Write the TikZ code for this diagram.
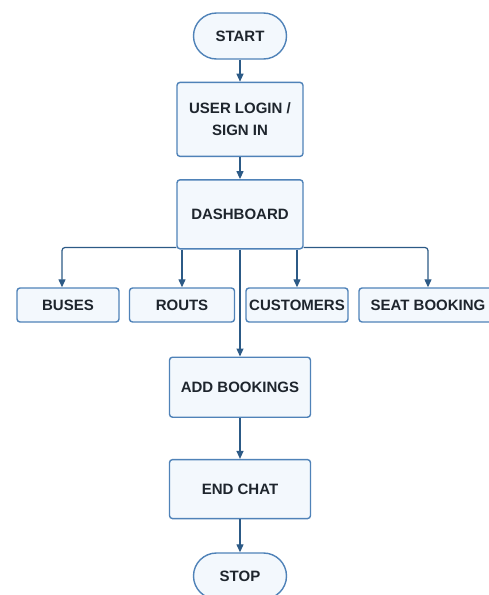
\documentclass[tikz,border=0pt]{standalone}
\usepackage{fontspec}
\setmainfont{Liberation Sans}
\usetikzlibrary{arrows.meta, positioning}
\definecolor{fcedge}{HTML}{4F82B8}
\definecolor{fcfill}{HTML}{F3F8FD}
\definecolor{fcline}{HTML}{2C5A86}
\definecolor{fctext}{HTML}{1E252D}

\begin{document}
\begin{tikzpicture}[
    x=1pt, y=1pt,
    procbox/.style={rectangle, rounded corners=3pt, draw=fcedge, fill=fcfill,
                    align=center, text=fctext, line width=1.4pt, inner sep=2pt,
                    font=\fontsize{15}{22}\selectfont\bfseries},
    termbox/.style={procbox, rounded corners=23pt, minimum width=93pt, minimum height=46pt},
    arrow/.style={-{Triangle[length=8pt, width=7pt]}, line width=1.2pt, fcline, rounded corners=3pt}
  ]
    \useasboundingbox (0,0) rectangle (489,-595);

    \node[termbox] (start) at (240,-36) {START};
    \node[procbox, minimum width=126pt, minimum height=74pt, below=22pt of start] (login) {USER LOGIN /\\SIGN IN};
    \node[procbox, minimum width=126pt, minimum height=69pt, below=22pt of login] (dash) {DASHBOARD};

    \node[procbox, minimum width=102pt, minimum height=34pt] (buses) at (68,-305) {BUSES};
    \node[procbox, minimum width=105pt, minimum height=34pt] (routs) at (182,-305) {ROUTS};
    \node[procbox, minimum width=102pt, minimum height=34pt] (customers) at (297,-305) {CUSTOMERS};
    \node[procbox, minimum width=138pt, minimum height=34pt] (seat) at (428,-305) {SEAT BOOKING};

    \node[procbox, minimum width=141pt, minimum height=60pt, below=107pt of dash] (addbook) {ADD BOOKINGS};
    \node[procbox, minimum width=141pt, minimum height=59pt, below=41pt of addbook] (endchat) {END CHAT};
    \node[termbox, below=33pt of endchat] (stop) {STOP};

    \draw[arrow] (start) -- (login);
    \draw[arrow] (login) -- (dash);
    \draw[arrow] ([yshift=2pt]dash.south west) -| ([xshift=-6pt]buses.north);
    \draw[arrow] (dash.south -| routs.north) -- (routs.north);
    \draw[arrow] (dash.south -| customers.north) -- (customers.north);
    \draw[arrow] ([yshift=2pt]dash.south east) -| (seat.north);
    \draw[arrow] (dash) -- (addbook);
    \draw[arrow] (addbook) -- (endchat);
    \draw[arrow] (endchat) -- (stop);
  \end{tikzpicture}
\end{document}
